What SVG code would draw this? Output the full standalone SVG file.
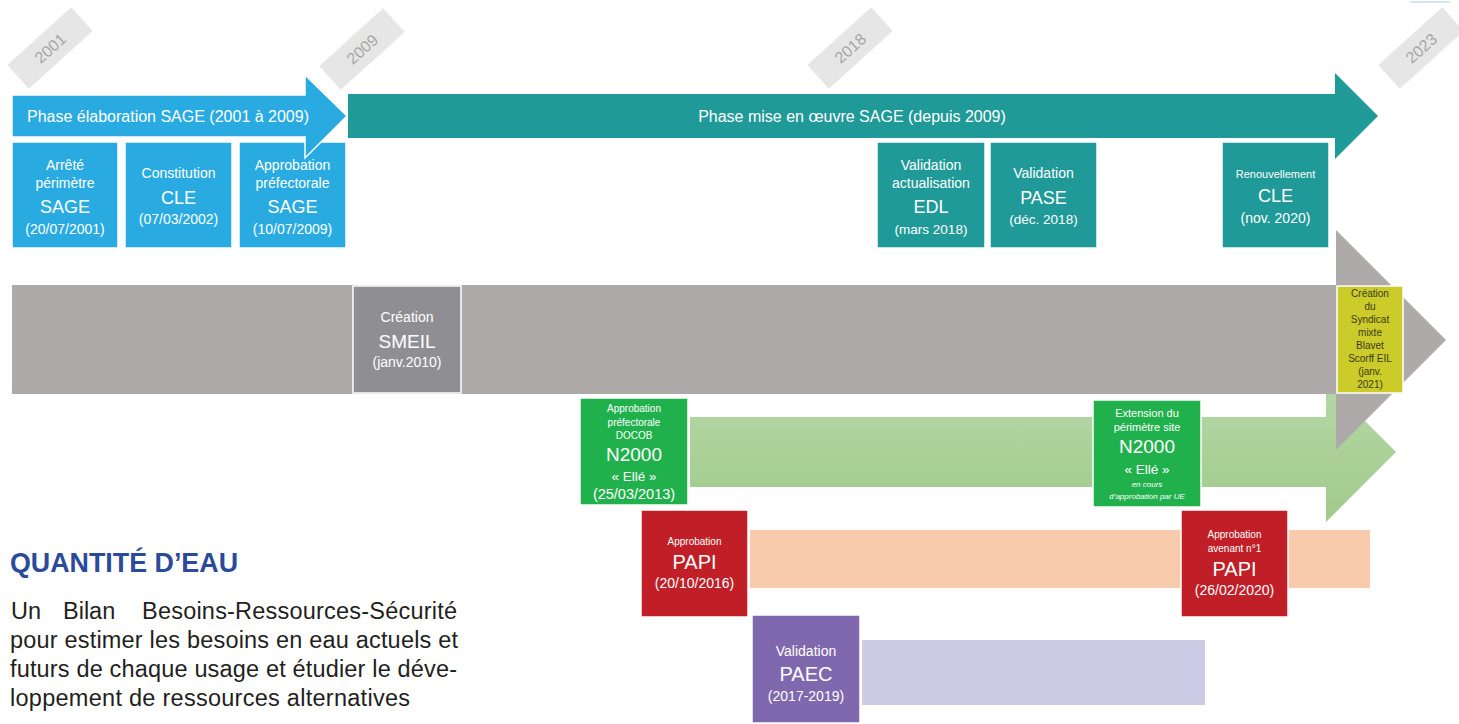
<svg xmlns="http://www.w3.org/2000/svg" width="1459" height="724" viewBox="0 0 1459 724">
<defs>
<linearGradient id="gGreen" x1="0" y1="0" x2="0" y2="1">
<stop offset="0" stop-color="#b5d8a7"/><stop offset="1" stop-color="#a1ca8b"/>
</linearGradient>
<style>
text{font-family:"Liberation Sans",Arial,sans-serif;fill:#fff;text-anchor:middle}
.yr rect{fill:#e7e6e6}
.yr text{fill:#a6a6a6;font-size:16px}
.box{stroke:#fff;stroke-width:1.5}
.blue{fill:#29abe2}
.teal{fill:#1f9a98}
.f8{font-size:8px;font-style:italic}
.f10{font-size:10px}
.f11{font-size:11px}
.f13{font-size:13.5px}
.f14{font-size:14px}
.f18{font-size:18px}
.f19{font-size:19px}
.f20{font-size:20px}
.dark{fill:#3b3b1c}
.body{fill:#231f20;font-size:23.5px;text-anchor:start}
</style>
</defs>

<rect x="1410" y="1" width="40" height="2" fill="#d6e6ef"/>

<g id="years">
<g class="yr" transform="translate(50,48) rotate(-42)"><rect x="-43" y="-16" width="86" height="32"/><text y="6">2001</text></g>
<g class="yr" transform="translate(362,49) rotate(-42)"><rect x="-43" y="-16" width="86" height="32"/><text y="6">2009</text></g>
<g class="yr" transform="translate(850,48) rotate(-42)"><rect x="-43" y="-16" width="86" height="32"/><text y="6">2018</text></g>
<g class="yr" transform="translate(1421,48) rotate(-42)"><rect x="-43" y="-16" width="86" height="32"/><text y="6">2023</text></g>
</g>

<g id="connectors">
<polygon class="teal" points="348,94 1335,94 1335,73 1378,116 1335,159 1335,138 348,138"/>
<polygon fill="url(#gGreen)" points="690,417 1326,417 1326,382 1396,452 1326,522 1326,487 690,487"/>
<polygon fill="#aeaaaa" points="12,285 1336,285 1336,230 1446,340 1336,450 1336,394 12,394"/>
<rect x="750" y="530" width="620" height="58" fill="#f8cbad"/>
<rect x="862" y="640" width="343" height="65" fill="#cdcae6"/>
</g>

<g id="sage-perimetre">
<rect class="box blue" x="12" y="142" width="106" height="106"/>
<text x="65" y="170" class="f14">Arrêté</text>
<text x="65" y="188" class="f14">périmètre</text>
<text x="65" y="213" class="f18">SAGE</text>
<text x="65" y="234" class="f14">(20/07/2001)</text>
</g>
<g id="cle-constitution">
<rect class="box blue" x="125" y="142" width="107" height="106"/>
<text x="178.5" y="178" class="f14">Constitution</text>
<text x="178.5" y="204" class="f18">CLE</text>
<text x="178.5" y="224" class="f14">(07/03/2002)</text>
</g>
<g id="sage-approbation">
<rect class="box blue" x="239" y="142" width="107" height="106"/>
<text x="292.5" y="170" class="f14">Approbation</text>
<text x="292.5" y="188" class="f14">préfectorale</text>
<text x="292.5" y="213" class="f18">SAGE</text>
<text x="292.5" y="234" class="f14">(10/07/2009)</text>
</g>
<g id="phase-elaboration">
<polygon class="blue" stroke="#fff" stroke-width="1.5" points="12,95 305,95 305,75 347,116 305,158 305,137 12,137"/>
<text x="168" y="122" style="font-size:16px">Phase élaboration SAGE (2001 à 2009)</text>
</g>
<g id="phase-mise-en-oeuvre">
<text x="852" y="122" style="font-size:16px">Phase mise en œuvre SAGE (depuis 2009)</text>
</g>

<g id="edl">
<rect class="box teal" x="877" y="142" width="108" height="106"/>
<text x="931" y="170" class="f14">Validation</text>
<text x="931" y="188" class="f14">actualisation</text>
<text x="931" y="213" class="f18">EDL</text>
<text x="931" y="234" class="f13">(mars 2018)</text>
</g>
<g id="pase">
<rect class="box teal" x="990" y="142" width="107" height="106"/>
<text x="1043.5" y="178" class="f14">Validation</text>
<text x="1043.5" y="204" class="f18">PASE</text>
<text x="1043.5" y="224" class="f13">(déc. 2018)</text>
</g>
<g id="cle-renouvellement">
<rect class="box teal" x="1222" y="142" width="107" height="106"/>
<text x="1275.5" y="178" class="f11">Renouvellement</text>
<text x="1275.5" y="202" class="f18">CLE</text>
<text x="1275.5" y="223" class="f14">(nov. 2020)</text>
</g>

<g id="smeil">
<rect class="box" fill="#8f8f93" x="353" y="286" width="108" height="107"/>
<text x="407" y="322" class="f14">Création</text>
<text x="407" y="348" class="f19">SMEIL</text>
<text x="407" y="367" class="f14">(janv.2010)</text>
</g>
<g id="syndicat-mixte">
<rect class="box" fill="#cbcb29" x="1337" y="286" width="66" height="107"/>
<text x="1370" y="297" class="f10 dark">Création</text>
<text x="1370" y="310" class="f10 dark">du</text>
<text x="1370" y="323" class="f10 dark">Syndicat</text>
<text x="1370" y="336" class="f10 dark">mixte</text>
<text x="1370" y="349" class="f10 dark">Blavet</text>
<text x="1370" y="362" class="f10 dark">Scorff EIL</text>
<text x="1370" y="375" class="f10 dark">(janv.</text>
<text x="1370" y="388" class="f10 dark">2021)</text>
</g>

<g id="n2000-docob">
<rect class="box" fill="#21b14c" x="580" y="398" width="108" height="107"/>
<text x="634" y="412" class="f10">Approbation</text>
<text x="634" y="426" class="f10">préfectorale</text>
<text x="634" y="439" class="f10">DOCOB</text>
<text x="634" y="461" class="f19">N2000</text>
<text x="634" y="481" style="font-size:13.5px">« Ellé »</text>
<text x="634" y="499" style="font-size:14.5px">(25/03/2013)</text>
</g>
<g id="n2000-extension">
<rect class="box" fill="#21b14c" x="1093" y="400" width="108" height="107"/>
<text x="1147" y="417" class="f11">Extension du</text>
<text x="1147" y="431" class="f11">périmètre site</text>
<text x="1147" y="453" class="f19">N2000</text>
<text x="1147" y="474" style="font-size:13.5px">« Ellé »</text>
<text x="1147" y="487" class="f8">en cours</text>
<text x="1147" y="499" class="f8">d’approbation par UE</text>
</g>

<g id="papi-1">
<rect class="box" fill="#c01f27" x="641" y="510" width="107" height="107"/>
<text x="694.5" y="545" class="f10">Approbation</text>
<text x="694.5" y="569" class="f20">PAPI</text>
<text x="694.5" y="588" class="f14">(20/10/2016)</text>
</g>
<g id="papi-2">
<rect class="box" fill="#c01f27" x="1181" y="510" width="107" height="107"/>
<text x="1234.5" y="538" class="f10">Approbation</text>
<text x="1234.5" y="552" class="f10">avenant n°1</text>
<text x="1234.5" y="576" class="f20">PAPI</text>
<text x="1234.5" y="595" class="f14">(26/02/2020)</text>
</g>
<g id="paec">
<rect class="box" fill="#7f68ad" x="752" y="615" width="108" height="108"/>
<text x="806" y="656" class="f14">Validation</text>
<text x="806" y="681" class="f20">PAEC</text>
<text x="806" y="701" class="f14">(2017-2019)</text>
</g>

<g id="quantite-eau">
<text x="10" y="572" style="font-size:28px;font-weight:bold;fill:#2b4a9a;text-anchor:start" textLength="228" lengthAdjust="spacingAndGlyphs">QUANTITÉ D’EAU</text>
<text class="body" x="11" y="619">Un</text>
<text class="body" x="63" y="619">Bilan</text>
<text class="body" x="142" y="619" textLength="315">Besoins-Ressources-Sécurité</text>
<text class="body" x="10" y="648" textLength="448">pour estimer les besoins en eau actuels et</text>
<text class="body" x="10" y="677" textLength="447">futurs de chaque usage et étudier le déve-</text>
<text class="body" x="10" y="706" textLength="400">loppement de ressources alternatives</text>
</g>
</svg>
